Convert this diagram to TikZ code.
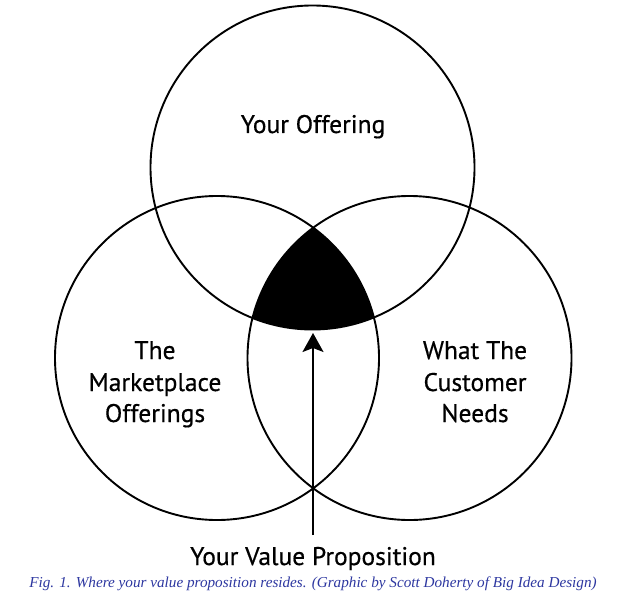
\documentclass[tikz,border=0pt]{standalone}
\usepackage{fontspec}
\setmainfont{PT Sans}
\newfontfamily\lblfont{PT Sans}[FakeBold=0.5]
\newfontfamily\capfont{Liberation Serif}
\usetikzlibrary{arrows.meta}
\definecolor{capblue}{RGB}{45,55,160}
\tikzset{
  venn/.style={circle, draw=black, line width=1.9pt, minimum size=324pt, inner sep=0pt},
  lbl/.style={font=\lblfont\fontsize{25.5}{31}\selectfont, anchor=base, inner sep=0pt},
  captext/.style={font=\capfont\itshape\fontsize{15.2}{18}\selectfont, text=capblue, anchor=base, inner sep=0pt},
  vparrow/.style={line width=1.9pt, -{Stealth[length=19pt, width=21pt, inset=4pt]}}
}
\begin{document}
\begin{tikzpicture}[x=1pt,y=-1pt]
\useasboundingbox (0,0) rectangle (628,596);
% filled intersection
\begin{scope}
  \clip (217,358) circle (162);
  \clip (409.5,358) circle (162);
  \fill[black] (312.5,167.5) circle (162);
\end{scope}
\node[venn] (offer) at (312.5,167.5) {};
\node[venn] (market) at (217,358) {};
\node[venn] (needs) at (409.5,358) {};
% labels
\node[lbl] (t1) at (313,133) {Your Offering};
\node[lbl] (m1) at (155,359) {The};
\node[lbl] (m2) at (155,391) {Marketplace};
\node[lbl] (m3) at (155,422) {Offerings};
\node[lbl] (n1) at (475,359) {What The};
\node[lbl] (n2) at (475,391) {Customer};
\node[lbl] (n3) at (475,422) {Needs};
\node[lbl] (vp) at (313,565) {Your Value Proposition};
\node[captext] (caption) at (313,587) {Fig. 1. Where your value proposition resides. (Graphic by Scott Doherty of Big Idea Design)};
% arrow
\coordinate (tail) at (313,535);
\coordinate (tip) at (313,333);
\draw[vparrow] (tail) -- (tip);
\end{tikzpicture}
\end{document}
